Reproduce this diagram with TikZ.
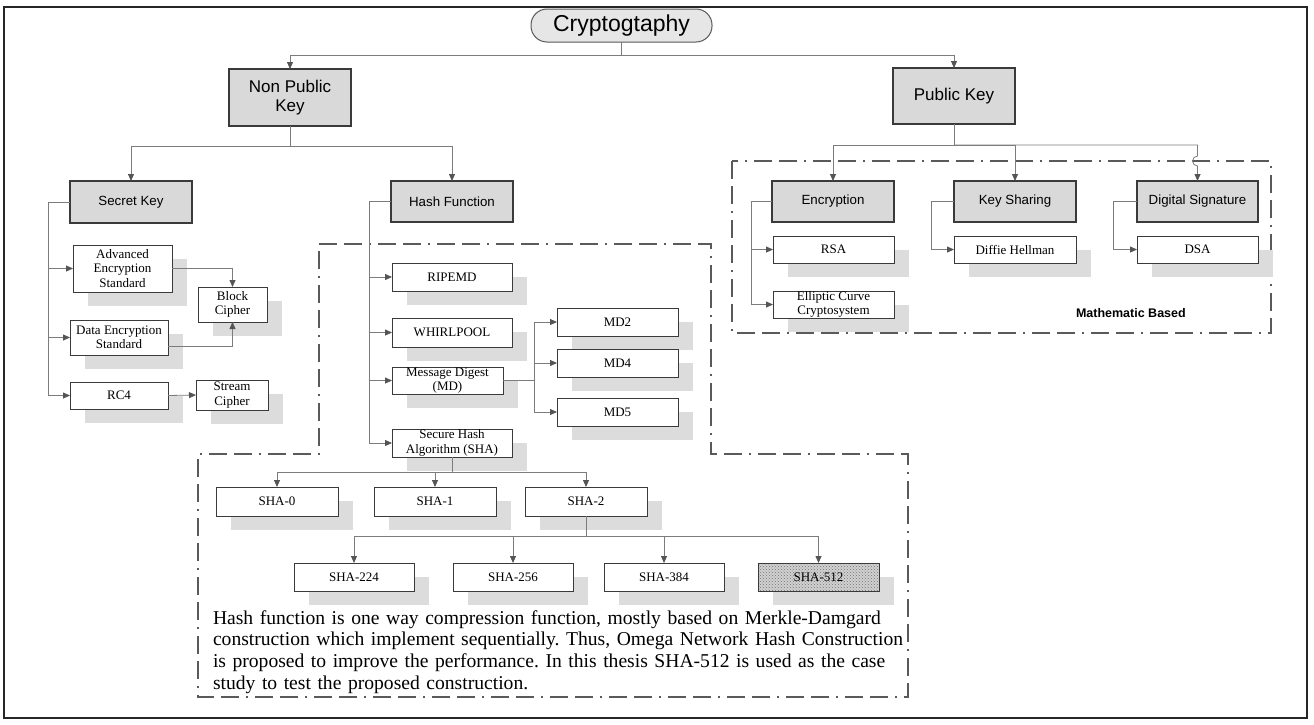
\documentclass[tikz,border=0pt]{standalone}
\usepackage{fontspec}
\setmainfont{Liberation Serif}
\setsansfont{Liberation Sans}
\usetikzlibrary{arrows.meta,shadows,patterns}

\definecolor{hdrfill}{HTML}{D9D9D9}
\definecolor{pillfill}{HTML}{E6E6E6}
\definecolor{edge}{HTML}{3A3A3A}
\definecolor{wirec}{HTML}{7C7C7C}
\definecolor{tipc}{HTML}{555555}
\definecolor{shade}{HTML}{DCDCDC}
\definecolor{zonec}{HTML}{5A5A5A}

\begin{document}
\frenchspacing
\begin{tikzpicture}[x=1pt,y=-1pt,
  every node/.style={inner sep=0pt, outer sep=0pt},
  hdr/.style={draw=edge, fill=hdrfill, line width=1.1pt,
    font=\sffamily\fontsize{13.3}{15}\selectfont,
    minimum width=122pt, minimum height=41pt, align=center},
  bighdr/.style={hdr, font=\sffamily\fontsize{17}{19}\selectfont, minimum height=57pt},
  leaf/.style={draw=edge, fill=white, line width=1pt,
    font=\fontsize{13}{14.3}\selectfont,
    minimum width=120pt, minimum height=28pt, align=center,
    general shadow={shadow xshift=15pt, shadow yshift=-14pt, fill=shade}},
  wire/.style={draw=wirec, line width=0.8pt},
  arr/.style={wire, -{Triangle[length=7pt,width=6pt,color=tipc]}},
  zone/.style={draw=zonec, line width=2pt,
    dash pattern=on 18pt off 7pt on 18pt off 7pt on 2pt off 7pt},
]
\useasboundingbox (0,0) rectangle (1314,724);
\fill[white] (0,0) rectangle (1314,724);

% outer frame
\draw[line width=1.4pt, draw=black!85] (4,7) rectangle (1307,718);

% grouping zones
\draw[zone] (732,161) rectangle (1271,333);
\draw[zone] (319,244) -- (711,244) -- (711,454) -- (908,454) -- (908,697)
  -- (198,697) -- (198,454) -- (319,454) -- cycle;

% root
\node[draw=edge!85, fill=pillfill, rounded corners=16pt, line width=1pt,
  minimum width=181pt, minimum height=33pt,
  font=\sffamily\fontsize{23}{26}\selectfont] (root) at (621.5,25.5) {Cryptogtaphy};

% second level
\node[bighdr] (npk) at (290,97.5) {Non Public\\Key};
\node[bighdr, minimum height=56pt] (pk) at (954,96) {Public Key};

% third level
\node[hdr, minimum height=42pt] (sk) at (131,202) {Secret Key};
\node[hdr] (hf) at (452,201.5) {Hash Function};
\node[hdr] (enc) at (833,201.5) {Encryption};
\node[hdr] (ks) at (1015,201.5) {Key Sharing};
\node[hdr, minimum width=121pt] (ds) at (1197.5,201.5) {Digital Signature};

% public key algorithms
\node[leaf, minimum width=121pt, minimum height=27pt] (rsa) at (833.5,249.5) {RSA};
\node[leaf, minimum width=121pt, minimum height=27pt] (ecc) at (833.5,304.5) {Elliptic Curve\\Cryptosystem};
\node[leaf, minimum width=122pt, minimum height=27pt] (dh) at (1015,249.5) {Diffie Hellman};
\node[leaf, minimum width=121pt, minimum height=27pt] (dsa) at (1197.5,249.5) {DSA};
\node[anchor=west, font=\sffamily\bfseries\fontsize{12.5}{14}\selectfont] (mathlbl) at (1076,313) {Mathematic Based};

% secret key algorithms
\node[leaf, minimum width=99pt, minimum height=47pt] (aes) at (122.5,268.5) {Advanced\\Encryption\\Standard};
\node[leaf, minimum width=98pt, minimum height=35pt] (des) at (119,337.5) {Data Encryption\\Standard};
\node[leaf, minimum width=98pt, minimum height=27pt] (rc4) at (119,395.5) {RC4};
\node[leaf, minimum width=69pt, minimum height=35pt] (blk) at (232.5,304.5) {Block\\Cipher};
\node[leaf, minimum width=72pt, minimum height=30pt] (stc) at (232,395) {Stream\\Cipher};

% hash functions
\node[leaf] (ripemd) at (452,277) {RIPEMD};
\node[leaf, minimum height=29pt] (whirl) at (452,332.5) {WHIRLPOOL};
\node[leaf, minimum width=111pt, minimum height=27pt] (md) at (447.5,380.5) {Message Digest\\(MD)};
\node[leaf] (sha) at (452,443) {Secure Hash\\Algorithm (SHA)};
\node[leaf, minimum width=121pt] (md2) at (617.5,322) {MD2};
\node[leaf, minimum width=121pt] (md4) at (617.5,363) {MD4};
\node[leaf, minimum width=121pt] (md5) at (617.5,412) {MD5};

% SHA family
\node[leaf, minimum width=122pt, minimum height=29pt] (sha0) at (277,501.5) {SHA-0};
\node[leaf, minimum width=122pt, minimum height=29pt] (sha1) at (435,501.5) {SHA-1};
\node[leaf, minimum width=122pt, minimum height=29pt] (sha2) at (586,501.5) {SHA-2};
\node[leaf] (sha224) at (354,577) {SHA-224};
\node[leaf] (sha256) at (513,577) {SHA-256};
\node[leaf] (sha384) at (664,577) {SHA-384};
\node[leaf, minimum width=121pt, preaction={fill=black!18},
  pattern=crosshatch dots, pattern color=black!55] (sha512) at (818.5,577) {SHA-512};

% note
\node[anchor=base west, text width=720pt, align=left,
  font=\fontsize{19.6}{21.7}\selectfont] (note) at (213,624)
  {Hash function is one way compression function, mostly based on Merkle-Damgard\\
   construction which implement sequentially. Thus, Omega Network Hash Construction\\
   is proposed to improve the performance. In this thesis SHA-512 is used as the case\\
   study to test the proposed construction.};

% junction points
\coordinate (topbus) at (621.5,55);
\coordinate (npbus) at (290,146);
\coordinate (pkbus) at (954,145);
\coordinate (dshop) at (1197.5,156);
\coordinate (skrail) at (48,202);
\coordinate (hfrail) at (369,201.5);
\coordinate (mdrail) at (534,380.5);
\coordinate (encrail) at (751,201.5);
\coordinate (ksrail) at (931,201.5);
\coordinate (dsrail) at (1113,201.5);
\coordinate (shabus) at (452,472);
\coordinate (sha2bus) at (586,536);

% connectors
\draw[wire] (root.south) -- (topbus);
\draw[arr] (topbus) -| (npk.north);
\draw[arr] (topbus) -| (pk.north);

\draw[wire] (npk.south) -- (npbus);
\draw[arr] (npbus) -| (sk.north);
\draw[arr] (npbus) -| (hf.north);

\draw[wire] (pk.south) -- (pkbus);
\draw[arr] (pkbus) -| (enc.north);
\draw[arr] (pkbus) -| (ks.north);
\draw[arr] (pkbus) -| (dshop) arc[start angle=90, end angle=270, radius=5pt] -- (ds.north);

\draw[wire] (enc.west) -- (encrail);
\draw[arr] (encrail) |- (rsa.west);
\draw[arr] (encrail) |- (ecc.west);
\draw[wire] (ks.west) -- (ksrail);
\draw[arr] (ksrail) |- (dh.west);
\draw[wire] (ds.west) -- (dsrail);
\draw[arr] (dsrail) |- (dsa.west);

\draw[wire] (sk.west) -- (skrail);
\draw[arr] (skrail) |- (aes.west);
\draw[arr] (skrail) |- (des.west);
\draw[arr] (skrail) |- (rc4.west);
\draw[arr] (aes.east) -| (blk.north);
\draw[arr] ([yshift=-9pt]des.east) -| (blk.south);
\draw[arr] (rc4.east) -- (stc.west);

\draw[wire] (hf.west) -- (hfrail);
\draw[arr] (hfrail) |- (ripemd.west);
\draw[arr] (hfrail) |- (whirl.west);
\draw[arr] (hfrail) |- (md.west);
\draw[arr] (hfrail) |- (sha.west);

\draw[wire] (md.east) -- (mdrail);
\draw[arr] (mdrail) |- (md2.west);
\draw[arr] (mdrail) |- (md4.west);
\draw[arr] (mdrail) |- (md5.west);

\draw[wire] (sha.south) -- (shabus);
\draw[arr] (shabus) -| (sha0.north);
\draw[arr] (shabus) -| (sha1.north);
\draw[arr] (shabus) -| (sha2.north);

\draw[wire] (sha2.south) -- (sha2bus);
\draw[arr] (sha2bus) -| (sha224.north);
\draw[arr] (sha2bus) -| (sha256.north);
\draw[arr] (sha2bus) -| (sha384.north);
\draw[arr] (sha2bus) -| (sha512.north);
\end{tikzpicture}
\end{document}
